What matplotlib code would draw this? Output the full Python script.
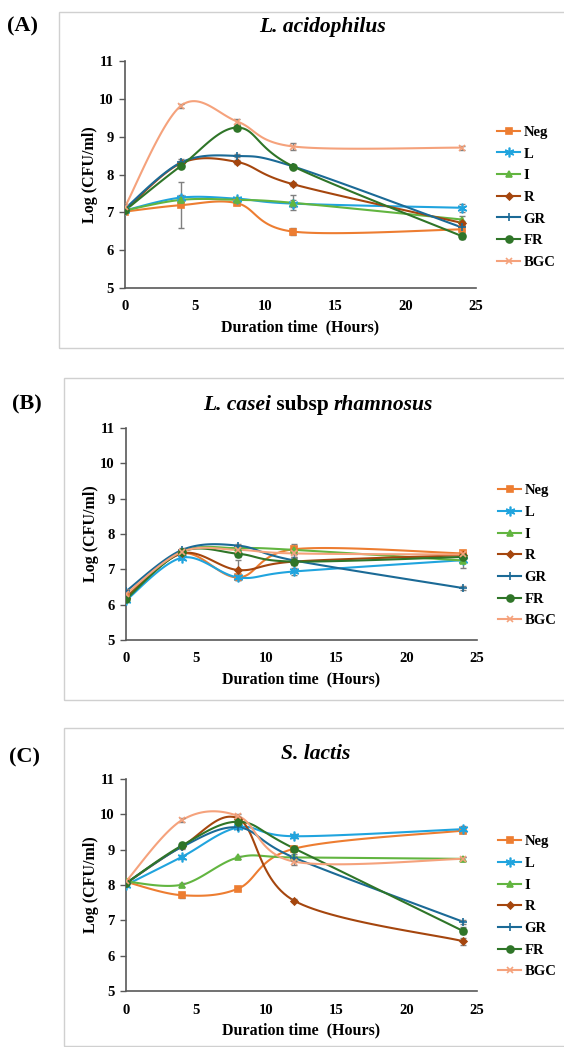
import numpy as np
import matplotlib
matplotlib.use('Agg')
import matplotlib.pyplot as plt
from matplotlib.patches import Rectangle
from matplotlib.lines import Line2D

plt.rcParams['font.family'] = ['Liberation Serif', 'DejaVu Serif']
plt.rcParams['font.weight'] = 'bold'

horas = [0, 4, 8, 12, 24]
series = ['Neg', 'L', 'I', 'R', 'GR', 'FR', 'BGC']

# (A) L. acidophilus
a_neg = [7.02, 7.19, 7.24, 6.49, 6.55]
a_l = [7.05, 7.39, 7.36, 7.23, 7.12]
a_i = [7.05, 7.33, 7.33, 7.25, 6.81]
a_r = [7.05, 8.30, 8.33, 7.74, 6.72]
a_gr = [7.10, 8.32, 8.49, 8.21, 6.60]
a_fr = [7.05, 8.23, 9.24, 8.21, 6.37]
a_bgc = [7.15, 9.82, 9.40, 8.74, 8.71]
a_err = {
    'Neg': [0.05, 0.60, 0.05, 0.10, 0.08],
    'L': [0.05, 0.08, 0.05, 0.10, 0.10],
    'I': [0.05, 0.05, 0.05, 0.20, 0.08],
    'R': [0.05, 0.05, 0.05, 0.05, 0.06],
    'GR': [0.05, 0.08, 0.04, 0.05, 0.06],
    'FR': [0.05, 0.05, 0.06, 0.05, 0.08],
    'BGC': [0.08, 0.05, 0.07, 0.08, 0.05],
}

# (B) L. casei subsp rhamnosus
b_neg = [6.22, 7.45, 6.77, 7.57, 7.45]
b_l = [6.12, 7.33, 6.77, 6.94, 7.26]
b_i = [6.20, 7.50, 7.60, 7.55, 7.25]
b_r = [6.20, 7.45, 6.98, 7.22, 7.40]
b_gr = [6.38, 7.55, 7.67, 7.25, 6.47]
b_fr = [6.15, 7.50, 7.44, 7.22, 7.35]
b_bgc = [6.30, 7.50, 7.55, 7.45, 7.42]
b_err = {
    'Neg': [0.05, 0.05, 0.08, 0.15, 0.05],
    'L': [0.05, 0.05, 0.08, 0.10, 0.05],
    'I': [0.05, 0.05, 0.05, 0.12, 0.20],
    'R': [0.05, 0.05, 0.28, 0.10, 0.05],
    'GR': [0.05, 0.05, 0.05, 0.10, 0.05],
    'FR': [0.05, 0.05, 0.10, 0.10, 0.05],
    'BGC': [0.05, 0.05, 0.05, 0.10, 0.05],
}

# (C) S. lactis
c_neg = [8.09, 7.71, 7.90, 9.03, 9.54]
c_l = [8.00, 8.80, 9.63, 9.38, 9.58]
c_i = [8.10, 8.01, 8.78, 8.78, 8.74]
c_r = [8.05, 9.10, 9.88, 7.55, 6.41]
c_gr = [8.05, 9.08, 9.63, 8.77, 6.96]
c_fr = [8.05, 9.12, 9.79, 9.03, 6.70]
c_bgc = [8.10, 9.84, 9.95, 8.66, 8.74]
c_err = {
    'Neg': [0.05, 0.07, 0.05, 0.05, 0.06],
    'L': [0.05, 0.05, 0.05, 0.06, 0.08],
    'I': [0.05, 0.06, 0.05, 0.05, 0.05],
    'R': [0.05, 0.05, 0.05, 0.04, 0.10],
    'GR': [0.05, 0.05, 0.05, 0.10, 0.05],
    'FR': [0.05, 0.08, 0.05, 0.05, 0.10],
    'BGC': [0.05, 0.05, 0.05, 0.10, 0.05],
}

cores = {'Neg': '#ED7D31', 'L': '#20A4DE', 'I': '#62B540', 'R': '#A5460E',
         'GR': '#1B6A96', 'FR': '#2F7528', 'BGC': '#F5A27C'}
marcadores = {'Neg': ('s', 5), 'L': ((6, 2, 0), 7), 'I': ('^', 5), 'R': ('D', 3.5),
              'GR': ('+', 6), 'FR': ('o', 5), 'BGC': ('x', 5)}


def suavizar(x, y, n=30):
    # curva suave estilo Excel (Bezier com tangentes Catmull-Rom)
    x = np.asarray(x, float)
    y = np.asarray(y, float)
    px = np.concatenate([[x[0]], x, [x[-1]]])
    py = np.concatenate([[y[0]], y, [y[-1]]])
    xs, ys = [], []
    t = np.linspace(0, 1, n)
    for i in range(1, len(px) - 2):
        p0 = np.array([px[i], py[i]])
        p3 = np.array([px[i + 1], py[i + 1]])
        c1 = p0 + (np.array([px[i + 1], py[i + 1]]) - np.array([px[i - 1], py[i - 1]])) / 6
        c2 = p3 - (np.array([px[i + 2], py[i + 2]]) - np.array([px[i], py[i]])) / 6
        b = ((1 - t) ** 3)[:, None] * p0 + (3 * (1 - t) ** 2 * t)[:, None] * c1 \
            + (3 * (1 - t) * t ** 2)[:, None] * c2 + (t ** 3)[:, None] * p3
        xs.extend(b[:, 0])
        ys.extend(b[:, 1])
    return xs, ys


def desenhar(ax, dados, erros, leg_y):
    for nome, vals in zip(series, dados):
        cor = cores[nome]
        m, ms = marcadores[nome]
        xs, ys = suavizar(horas, vals)
        ax.plot(xs, ys, color=cor, linewidth=1.5, zorder=3)
        ax.errorbar(horas, vals, yerr=erros[nome], fmt='none', ecolor='#7f7f7f',
                    elinewidth=1, capsize=2.5, capthick=1, zorder=4)
        ax.plot(horas, vals, linestyle='none', marker=m, markersize=ms, color=cor,
                markeredgecolor=cor, markeredgewidth=1.2, zorder=5)
    ax.set_xlim(0, 25)
    ax.set_ylim(5, 11)
    ax.set_xticks([0, 5, 10, 15, 20, 25])
    ax.set_yticks([5, 6, 7, 8, 9, 10, 11])
    for s in ['top', 'right']:
        ax.spines[s].set_visible(False)
    for s in ['left', 'bottom']:
        ax.spines[s].set_color('#595959')
        ax.spines[s].set_linewidth(1.2)
    ax.tick_params(axis='y', direction='out', length=4, width=1, color='#595959',
                   labelsize=10.5, pad=4)
    ax.tick_params(axis='x', length=0, labelsize=10.5, pad=9)
    ax.set_xlabel('Duration time  (Hours)', fontsize=11.5, fontweight='bold', labelpad=4)
    ax.set_ylabel('Log (CFU/ml)', fontsize=11.5, fontweight='bold', labelpad=1)

    handles = []
    for nome in series:
        m, ms = marcadores[nome]
        handles.append(Line2D([], [], color=cores[nome], linewidth=1.5, marker=m,
                              markersize=ms, markeredgewidth=1.2))
    ax.legend(handles, series, loc='upper left', bbox_to_anchor=(1.06, leg_y),
              frameon=False, fontsize=10.5, handlelength=1.6, handletextpad=0.2,
              labelspacing=0.58, borderaxespad=0, borderpad=0)


W, H = 564, 1047
fig = plt.figure(figsize=(W / 100, H / 100), dpi=100)


def eixo(esq, dir_, topo, base):
    return fig.add_axes([esq / W, 1 - base / H, (dir_ - esq) / W, (base - topo) / H])


# molduras dos graficos
for (x0, y0, y1) in [(59, 12, 348), (64, 378, 700), (64, 728, 1046)]:
    fig.add_artist(Rectangle((x0 / W, 1 - y1 / H), 1.2, (y1 - y0) / H,
                             transform=fig.transFigure, fill=False,
                             edgecolor='#d0d0d0', linewidth=1))

ax_a = eixo(125, 476, 61, 288)
desenhar(ax_a, [a_neg, a_l, a_i, a_r, a_gr, a_fr, a_bgc], a_err, 0.715)
ax_b = eixo(126, 477, 428, 640)
desenhar(ax_b, [b_neg, b_l, b_i, b_r, b_gr, b_fr, b_bgc], b_err, 0.735)
ax_c = eixo(126, 477, 779, 991)
desenhar(ax_c, [c_neg, c_l, c_i, c_r, c_gr, c_fr, c_bgc], c_err, 0.735)

# rotulos dos paineis e titulos
fig.text(22 / W, 1 - 26 / H, '(A)', fontsize=16, fontweight='bold', ha='center', va='center')
fig.text(27 / W, 1 - 404 / H, '(B)', fontsize=16, fontweight='bold', ha='center', va='center')
fig.text(25 / W, 1 - 757 / H, '(C)', fontsize=16, fontweight='bold', ha='center', va='center')

fig.text(323 / W, 1 - 27 / H, 'L. acidophilus', fontsize=15.5, fontweight='bold',
         style='italic', ha='center', va='center')
fig.text(316 / W, 1 - 754 / H, 'S. lactis', fontsize=15.5, fontweight='bold',
         style='italic', ha='center', va='center')

# titulo misto (italico + normal) do painel B
partes = [('L. casei', 'italic'), (' subsp ', 'normal'), ('rhamnosus', 'italic')]
base_y = 1 - 410 / H
textos = [fig.text(0, base_y, p, fontsize=15.5, fontweight='bold', style=st,
                   ha='left', va='baseline') for p, st in partes]
fig.canvas.draw()
r = fig.canvas.get_renderer()
larguras = [t.get_window_extent(r).width for t in textos]
x = 318 - sum(larguras) / 2
for t, w in zip(textos, larguras):
    t.set_x(x / W)
    x += w

plt.savefig('out.png', dpi=100)
plt.close()
